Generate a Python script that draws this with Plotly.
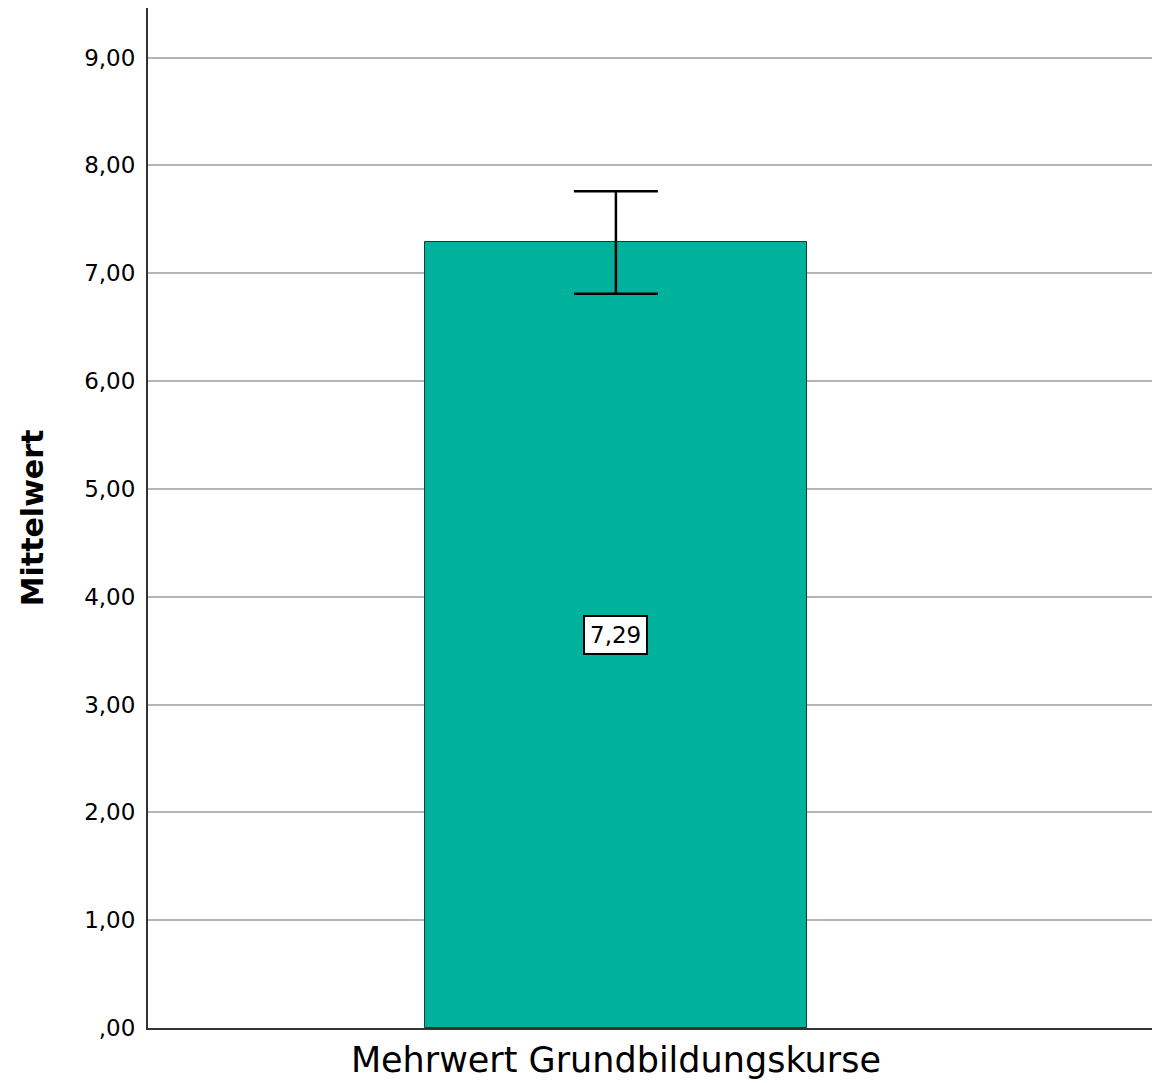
import plotly.graph_objects as go

categories = ["Mehrwert Grundbildungskurse"]
means = [7.29]
err_plus = [0.47]
err_minus = [0.48]
value_labels = ["7,29"]
tick_vals = [0, 1, 2, 3, 4, 5, 6, 7, 8, 9]
tick_text = [",00", "1,00", "2,00", "3,00", "4,00", "5,00", "6,00", "7,00", "8,00", "9,00"]

xpos = list(range(len(categories)))

fig = go.Figure()
fig.add_trace(go.Bar(
    x=xpos, y=means, width=1.0,
    marker=dict(color="#00b19c", line=dict(color="#1a3a36", width=1)),
    error_y=dict(type="data", symmetric=False, array=err_plus, arrayminus=err_minus,
                 color="black", thickness=2.5, width=42),
    showlegend=False, hoverinfo="skip",
))
for xp, m, lab in zip(xpos, means, value_labels):
    fig.add_annotation(x=xp, y=m / 2, text=lab, showarrow=False,
                       font=dict(family="DejaVu Sans", size=23, color="black"),
                       bgcolor="white", bordercolor="black", borderwidth=2, borderpad=5)

fig.update_layout(
    width=1160, height=1075,
    margin=dict(l=140, r=0, t=0, b=55),
    plot_bgcolor="white", paper_bgcolor="white",
    font=dict(family="DejaVu Sans", color="black"),
    bargap=0,
)
fig.update_xaxes(
    range=[-1.2225, 1.4425], tickvals=xpos, ticktext=categories,
    tickfont=dict(size=35), showgrid=False, zeroline=False,
    showline=True, linecolor="#333333", linewidth=2, ticks="", ticklen=0,
)
fig.update_yaxes(
    range=[0, 9.46], tickvals=tick_vals, ticktext=tick_text,
    tickfont=dict(size=23), showgrid=True, gridcolor="#b5b5b5", gridwidth=2,
    zeroline=False, showline=True, linecolor="#333333", linewidth=2,
    ticks="", ticklabelstandoff=6,
    title=dict(text="<b>Mittelwert</b>", font=dict(size=30), standoff=32),
)
fig.write_html("out.html")
